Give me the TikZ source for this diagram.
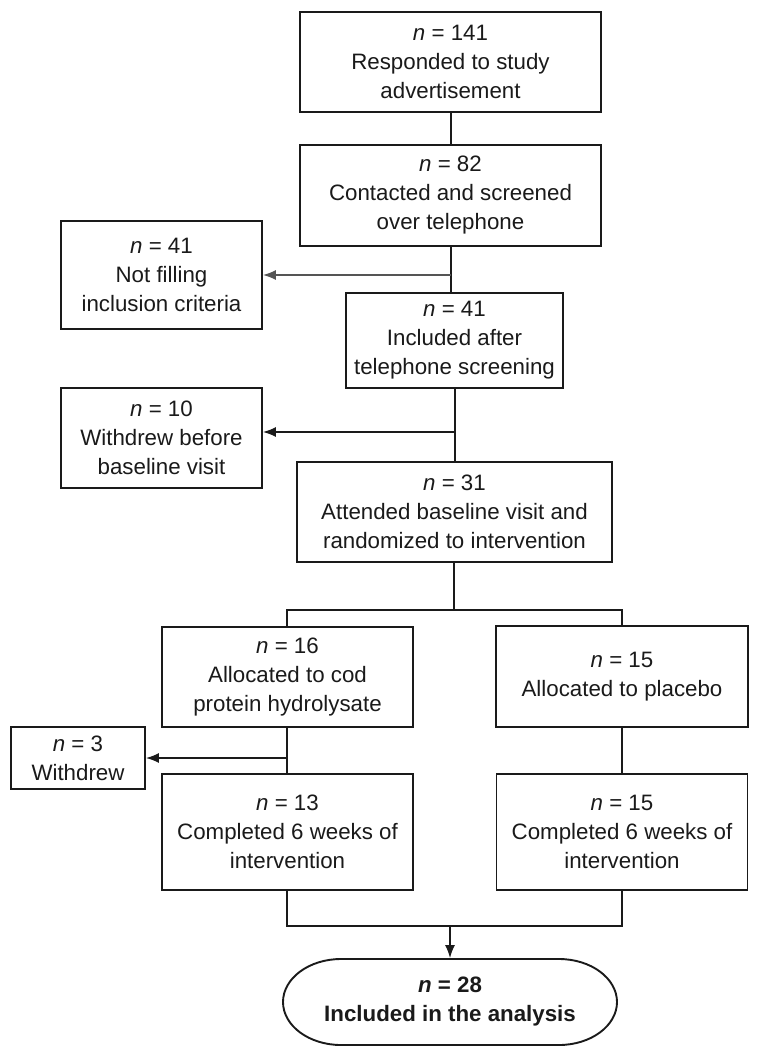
\documentclass[tikz,border=0pt]{standalone}
\usepackage{fontspec}
\setmainfont{Liberation Sans}
\usetikzlibrary{arrows.meta}
\definecolor{ink}{HTML}{1A1A1A}
\definecolor{grayarrow}{HTML}{555555}
\begin{document}
\begin{tikzpicture}[x=1pt,y=-1pt,
  box/.style={draw=ink,line width=1.9pt,text=ink,align=center,inner sep=0pt,
    font=\fontsize{22.3}{29}\selectfont},
  conn/.style={draw=ink,line width=1.5pt},
  arr/.style={conn,-{Latex[length=13pt,width=10pt]}},
  garr/.style={draw=grayarrow,line width=1.5pt,-{Latex[length=13pt,width=10pt]}}]
\useasboundingbox[fill=white] (0,0) rectangle (764,1060);

\node[box,minimum width=301pt,minimum height=100pt] (b1) at (450.5,62)
  {\textit{n} = 141\\Responded to study\\advertisement};
\node[box,minimum width=301pt,minimum height=101pt] (b2) at (450.5,195.5)
  {\textit{n} = 82\\Contacted and screened\\over telephone};
\node[box,minimum width=201pt,minimum height=108pt] (nf) at (161.5,275)
  {\textit{n} = 41\\Not filling\\inclusion criteria};
\node[box,minimum width=217pt,minimum height=95pt] (b3) at (454.5,340.5)
  {\textit{n} = 41\\Included after\\telephone screening};
\node[box,minimum width=201pt,minimum height=100pt] (wd) at (161.5,438)
  {\textit{n} = 10\\Withdrew before\\baseline visit};
\node[box,minimum width=315pt,minimum height=100pt] (b4) at (454.5,512)
  {\textit{n} = 31\\Attended baseline visit and\\randomized to intervention};
\node[box,minimum width=251pt,minimum height=100pt] (b16) at (287.5,677)
  {\textit{n} = 16\\Allocated to cod\\protein hydrolysate};
\node[box,minimum width=252pt,minimum height=101pt] (bp) at (622,676.5)
  {\textit{n} = 15\\Allocated to placebo};
\node[box,minimum width=134pt,minimum height=62pt] (w3) at (78,758)
  {\textit{n} = 3\\Withdrew};
\node[box,minimum width=251pt,minimum height=116pt] (b13) at (287.5,832)
  {\textit{n} = 13\\Completed 6 weeks of\\intervention};
\node[box,minimum width=251pt,minimum height=116pt] (b15) at (622,832)
  {\textit{n} = 15\\Completed 6 weeks of\\intervention};
\node[box,draw=none,minimum width=334pt,minimum height=86pt,
  font=\fontsize{22.3}{29}\selectfont\bfseries] (res) at (450,1002)
  {\textit{n} = 28\\Included in the analysis};
% stadium outline with elliptic ends (res spans x 283..617, y 959..1045)
\draw[ink,line width=1.9pt,line join=round]
  (341,959) -- (559,959)
  .. controls (591,959) and (617,978.3) .. (617,1002)
  .. controls (617,1025.7) and (591,1045) .. (559,1045)
  -- (341,1045)
  .. controls (309,1045) and (283,1025.7) .. (283,1002)
  .. controls (283,978.3) and (309,959) .. cycle;

% coordinates
\coordinate (j1) at (451,275);
\coordinate (j2) at (455,432);
\coordinate (j3) at (454,610);
\coordinate (j4) at (287,758);
\coordinate (j5) at (450,926);

\draw[conn] (b1.south -| j1) -- (b2.north -| j1);
\draw[conn] (b2.south -| j1) -- (b3.north -| j1);
\draw[garr] (j1) -- (j1 -| nf.east);
\draw[conn] (b3.south -| j2) -- (b4.north -| j2);
\draw[arr] (j2) -- (j2 -| wd.east);
\draw[conn] (b4.south -| j3) -- (j3);
\draw[conn] (b16.north -| j4) -- (j4 |- j3) -- (bp.north |- j3) -- (bp.north);
\draw[conn] (b16.south -| j4) -- (b13.north -| j4);
\draw[arr] (j4) -- (j4 -| w3.east);
\draw[conn] (bp.south) -- (b15.north);
\draw[conn] (b13.south -| j4) -- (j4 |- j5) -- (b15.south |- j5) -- (b15.south);
\draw[arr] (j5) -- (j5 |- res.north);
\end{tikzpicture}
\end{document}
